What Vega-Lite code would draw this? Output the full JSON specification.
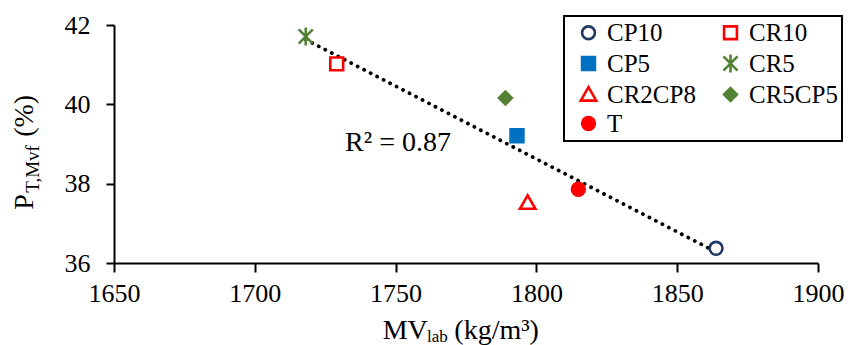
{
  "$schema": "https://vega.github.io/schema/vega-lite/v6.json",
  "width": 704,
  "height": 238,
  "autosize": {"type": "none"},
  "padding": {"left": 114, "top": 25, "right": 34, "bottom": 82},
  "background": "white",
  "config": {
    "view": {"stroke": null},
    "axis": {
      "labelColor": "black",
      "domainColor": "black",
      "domainWidth": 2,
      "tickColor": "black",
      "tickWidth": 2,
      "grid": false,
      "labelFlush": false,
      "labelOverlap": false
    },
    "legend": {
      "labelColor": "black",
      "strokeColor": "black",
      "strokeWidth": 2,
      "fillColor": "white"
    }
  },
  "datasets": {
    "points": [
      {"series": "CP10", "mv": 1863.8, "p": 36.37},
      {"series": "CR10", "mv": 1729.1, "p": 41.02},
      {"series": "CP5", "mv": 1793.1, "p": 39.21},
      {"series": "CR5", "mv": 1718.1, "p": 41.71},
      {"series": "CR2CP8", "mv": 1796.9, "p": 37.52},
      {"series": "CR5CP5", "mv": 1789.0, "p": 40.16},
      {"series": "T", "mv": 1814.9, "p": 37.86}
    ],
    "r2": [{"t": "R² = 0.87", "mv": 1750.85, "p": 38.83}],
    "xtitle_big": [
      {"t": "MV", "mv": 1745.4, "p": 34.08},
      {"t": "(kg/m³)", "mv": 1770.85, "p": 34.08}
    ],
    "xtitle_small": [{"t": "lab", "mv": 1761.15, "p": 34.0}],
    "ytitle_big": [
      {"t": "P", "mv": 1621.2, "p": 37.34},
      {"t": "(%)", "mv": 1621.2, "p": 39.18}
    ],
    "ytitle_small": [{"t": "T,Mvf", "mv": 1623.4, "p": 37.77}]
  },
  "encoding": {
    "x": {
      "field": "mv",
      "type": "quantitative",
      "scale": {"domain": [1650, 1900], "nice": false, "zero": false},
      "axis": {
        "title": null,
        "values": [1650, 1700, 1750, 1800, 1850, 1900],
        "format": "d",
        "tickSize": 9,
        "labelPadding": 8,
        "labelFont": "Liberation Serif",
        "labelFontSize": 26,
        "labelColor": "black"
      }
    },
    "y": {
      "field": "p",
      "type": "quantitative",
      "scale": {"domain": [36, 42], "nice": false, "zero": false},
      "axis": {
        "title": null,
        "values": [36, 38, 40, 42],
        "format": "d",
        "tickSize": 8,
        "labelPadding": 16,
        "labelFont": "Liberation Serif",
        "labelFontSize": 26,
        "labelColor": "black"
      }
    }
  },
  "layer": [
    {
      "data": {"name": "points"},
      "transform": [{"regression": "p", "on": "mv"}],
      "mark": {"type": "line", "color": "black", "strokeWidth": 3.8, "strokeDash": [0.1, 7.2], "strokeCap": "round"}
    },
    {
      "data": {"name": "points"},
      "mark": {"type": "point", "filled": true, "opacity": 1, "size": 165, "strokeWidth": 2.6},
      "encoding": {
        "shape": {
          "field": "series",
          "type": "nominal",
          "scale": {
            "domain": ["CP10", "CR10", "CP5", "CR5", "CR2CP8", "CR5CP5", "T"],
            "range": ["circle", "square", "square", "M-1.1,-1.1L1.1,1.1M-1.1,1.1L1.1,-1.1M0,-1.4L0,1.4", "M0,-1.15L1.2,0.95L-1.2,0.95Z", "diamond", "circle"]
          },
          "legend": {
            "title": null,
            "orient": "none",
            "legendX": 450,
            "legendY": -9,
            "columns": 2,
            "direction": "horizontal",
            "labelFont": "Liberation Serif",
            "labelFontSize": 25,
            "labelColor": "black",
            "symbolSize": 165,
            "symbolStrokeWidth": 2.6,
            "strokeColor": "black",
            "padding": 4,
            "columnPadding": 14,
            "rowPadding": 3,
            "labelOffset": 6,
            "symbolOffset": 8
          }
        },
        "stroke": {
          "field": "series",
          "type": "nominal",
          "scale": {
            "domain": ["CP10", "CR10", "CP5", "CR5", "CR2CP8", "CR5CP5", "T"],
            "range": ["#1f3864", "#ff0000", "#0070c0", "#548235", "#ff0000", "#548235", "#ff0000"]
          },
          "legend": {"title": null}
        },
        "fill": {
          "field": "series",
          "type": "nominal",
          "scale": {
            "domain": ["CP10", "CR10", "CP5", "CR5", "CR2CP8", "CR5CP5", "T"],
            "range": ["#ffffff", "#ffffff", "#0070c0", "transparent", "#ffffff", "#548235", "#ff0000"]
          },
          "legend": {"title": null}
        }
      }
    },
    {
      "data": {"name": "r2"},
      "mark": {"type": "text", "font": "Liberation Serif", "fontSize": 28, "color": "black", "align": "center", "baseline": "alphabetic"},
      "encoding": {"text": {"field": "t"}}
    },
    {
      "data": {"name": "xtitle_big"},
      "mark": {"type": "text", "font": "Liberation Serif", "fontSize": 28, "color": "black", "align": "left", "baseline": "alphabetic"},
      "encoding": {"text": {"field": "t"}}
    },
    {
      "data": {"name": "xtitle_small"},
      "mark": {"type": "text", "font": "Liberation Serif", "fontSize": 17, "color": "black", "align": "left", "baseline": "alphabetic"},
      "encoding": {"text": {"field": "t"}}
    },
    {
      "data": {"name": "ytitle_big"},
      "mark": {"type": "text", "font": "Liberation Serif", "fontSize": 28, "color": "black", "align": "left", "baseline": "alphabetic", "angle": 270},
      "encoding": {"text": {"field": "t"}}
    },
    {
      "data": {"name": "ytitle_small"},
      "mark": {"type": "text", "font": "Liberation Serif", "fontSize": 19, "color": "black", "align": "left", "baseline": "alphabetic", "angle": 270},
      "encoding": {"text": {"field": "t"}}
    }
  ]
}
